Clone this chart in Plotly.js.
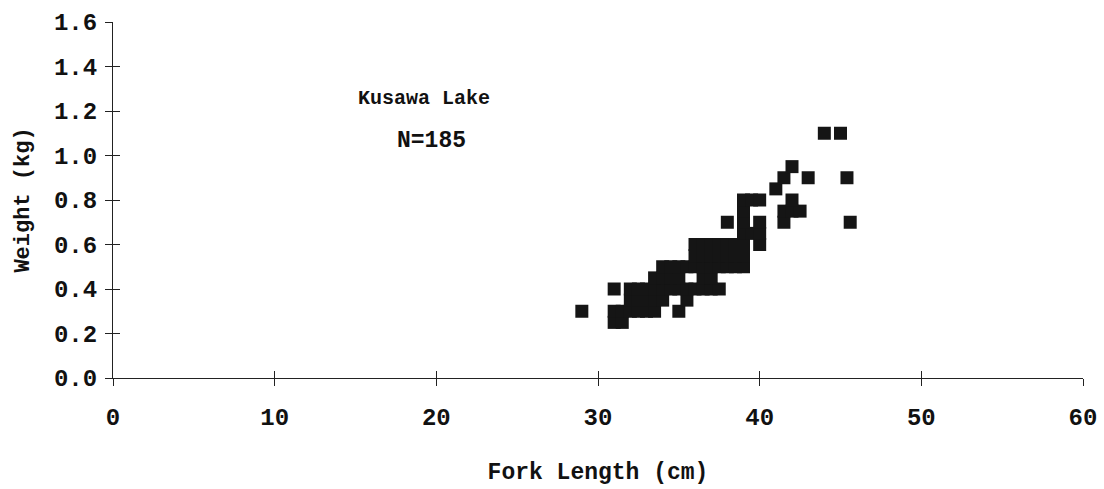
<!DOCTYPE html>
<html>
<head>
<meta charset="utf-8">
<script src="https://cdn.plot.ly/plotly-3.0.1.min.js"></script>
<style>
  html, body { margin: 0; padding: 0; background: #ffffff; }
  #chart { width: 1104px; height: 489px; }
</style>
</head>
<body>
<div id="chart"></div>
<script>
// Kusawa Lake sample: fork length (cm) against weight (kg)
const forkLength = [
  29,
  31, 31.5,
  31, 31.5, 32, 32.5, 33, 33.5, 35,
  32, 32.5, 33, 33.5, 34, 35.5,
  31, 32, 32.5, 33, 33.5, 34, 34.5, 35, 35.5, 36, 36.5, 37, 37.5,
  33.5, 34, 34.5, 35, 36.5, 37,
  34, 34.5, 35, 35.5, 36, 36.5, 37, 37.5, 38, 38.5, 39,
  36, 36.5, 37, 37.5, 38, 38.5, 39,
  36, 36.5, 37, 37.5, 38, 38.5, 39, 40,
  39, 39.5, 40,
  38, 39, 40, 41.5, 45.6,
  39, 41.5, 42, 42.5,
  39, 39.5, 40, 42,
  41,
  41.5, 43, 45.4,
  42,
  44, 45
];
const weight = [
  0.30,
  0.25, 0.25,
  0.30, 0.30, 0.30, 0.30, 0.30, 0.30, 0.30,
  0.35, 0.35, 0.35, 0.35, 0.35, 0.35,
  0.40, 0.40, 0.40, 0.40, 0.40, 0.40, 0.40, 0.40, 0.40, 0.40, 0.40, 0.40, 0.40,
  0.45, 0.45, 0.45, 0.45, 0.45, 0.45,
  0.50, 0.50, 0.50, 0.50, 0.50, 0.50, 0.50, 0.50, 0.50, 0.50, 0.50,
  0.55, 0.55, 0.55, 0.55, 0.55, 0.55, 0.55,
  0.60, 0.60, 0.60, 0.60, 0.60, 0.60, 0.60, 0.60,
  0.65, 0.65, 0.65,
  0.70, 0.70, 0.70, 0.70, 0.70,
  0.75, 0.75, 0.75, 0.75,
  0.80, 0.80, 0.80, 0.80,
  0.85,
  0.90, 0.90, 0.90,
  0.95,
  1.10, 1.10
];

const lakeName = 'Kusawa Lake';
const sampleLabel = 'N=185';
const xTickValues = [0, 10, 20, 30, 40, 50, 60];
const yTickValues = [0, 0.2, 0.4, 0.6, 0.8, 1.0, 1.2, 1.4, 1.6];
const yTickLabels = ['0.0', '0.2', '0.4', '0.6', '0.8', '1.0', '1.2', '1.4', '1.6'];

const FONT = 'Liberation Mono, Courier New, monospace';
const INK = '#111111';

const traces = [
  {
    type: 'scatter',
    mode: 'markers',
    x: forkLength,
    y: weight,
    marker: { symbol: 'square', size: 13, color: '#151515', line: { width: 0 } },
    hoverinfo: 'x+y',
    showlegend: false
  },
  // carries the inward half of the cross-shaped tick marks
  { type: 'scatter', mode: 'markers', x: [], y: [], xaxis: 'x2', yaxis: 'y2', showlegend: false, hoverinfo: 'skip' }
];

const layout = {
  width: 1104,
  height: 489,
  margin: { l: 113, r: 21, t: 22, b: 111 },
  paper_bgcolor: '#ffffff',
  plot_bgcolor: '#ffffff',
  showlegend: false,
  font: { family: FONT, color: INK, size: 24, weight: 'bold' },
  xaxis: {
    range: [0, 60],
    tickvals: xTickValues,
    ticktext: xTickValues.map(String),
    ticks: 'outside', ticklen: 7, tickwidth: 1, tickcolor: '#222',
    ticklabelstandoff: 10,
    tickfont: { family: FONT, size: 24, weight: 'bold', color: INK },
    showline: true, linecolor: '#222', linewidth: 1,
    showgrid: false, zeroline: false,
    automargin: false,
    title: { text: 'Fork Length (cm)', font: { family: FONT, size: 23, weight: 'bold', color: INK }, standoff: 32 }
  },
  yaxis: {
    range: [0, 1.6],
    tickvals: yTickValues,
    ticktext: yTickLabels,
    ticks: 'outside', ticklen: 7, tickwidth: 1, tickcolor: '#222',
    ticklabelstandoff: 3,
    tickfont: { family: FONT, size: 24, weight: 'bold', color: INK },
    showline: true, linecolor: '#222', linewidth: 1,
    showgrid: false, zeroline: false,
    automargin: false,
    title: { text: 'Weight (kg)', font: { family: FONT, size: 22, weight: 'bold', color: INK }, standoff: 18 }
  },
  xaxis2: {
    overlaying: 'x', matches: 'x', anchor: 'y2', side: 'bottom',
    range: [0, 60], tickvals: xTickValues,
    ticks: 'inside', ticklen: 7, tickwidth: 1, tickcolor: '#222',
    showticklabels: false, showline: false, showgrid: false, zeroline: false
  },
  yaxis2: {
    overlaying: 'y', matches: 'y', anchor: 'x2', side: 'left',
    range: [0, 1.6], tickvals: yTickValues,
    ticks: 'inside', ticklen: 7, tickwidth: 1, tickcolor: '#222',
    showticklabels: false, showline: false, showgrid: false, zeroline: false
  },
  annotations: [
    {
      xref: 'paper', yref: 'paper', x: 0.3206, y: 0.784,
      text: lakeName, showarrow: false, xanchor: 'center', yanchor: 'middle',
      font: { family: FONT, size: 20, weight: 'bold', color: INK }
    },
    {
      xref: 'paper', yref: 'paper', x: 0.328, y: 0.666,
      text: sampleLabel, showarrow: false, xanchor: 'center', yanchor: 'middle',
      font: { family: FONT, size: 23, weight: 'bold', color: INK }
    }
  ]
};

Plotly.newPlot('chart', traces, layout, { staticPlot: true, displayModeBar: false });
</script>
</body>
</html>
